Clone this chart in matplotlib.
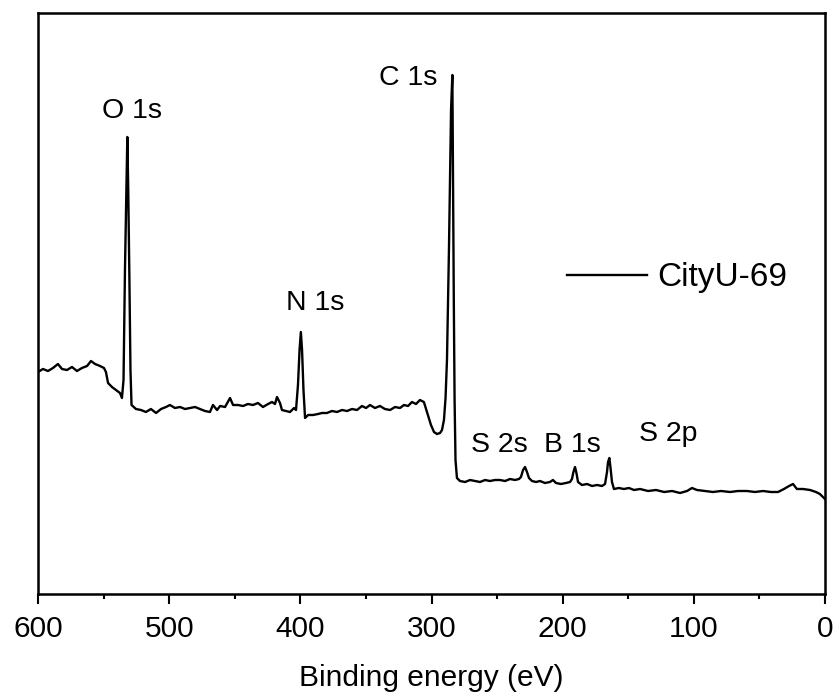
import matplotlib
matplotlib.use("Agg")
import matplotlib.pyplot as plt
from matplotlib.ticker import MultipleLocator

plt.rcParams['font.family'] = ['Liberation Sans', 'DejaVu Sans']

# Binding energy (eV) and intensity (a.u.)
energy = [600.0, 596.2, 592.4, 588.6, 584.8, 581.7, 577.9, 574.1, 570.3, 566.5,
          562.6, 559.6, 556.5, 552.7, 549.7, 548.2, 546.6, 543.6, 540.5, 537.5,
          536.0, 534.8, 533.7, 532.5, 531.9, 531.2, 530.4, 529.5, 528.7, 525.3,
          521.5, 517.7, 513.9, 510.0, 506.2, 502.4, 499.4, 495.6, 491.7, 487.9,
          484.1, 480.3, 476.5, 472.7, 468.9, 466.6, 463.5, 461.2, 457.4, 453.6,
          451.3, 447.5, 443.7, 439.9, 436.1, 432.3, 428.5, 424.6, 421.6, 419.3,
          417.8, 415.5, 414.0, 410.9, 407.9, 404.8, 403.3, 401.8, 400.6, 399.6,
          398.7, 397.6, 396.4, 394.1, 390.3, 386.5, 383.5, 379.7, 375.9, 372.0,
          368.2, 364.4, 360.6, 356.8, 353.0, 349.9, 346.9, 343.1, 339.3, 335.5,
          331.6, 327.8, 324.0, 321.0, 317.9, 314.9, 311.8, 308.8, 305.8, 302.7,
          300.4, 298.1, 295.8, 293.5, 292.0, 290.5, 289.3, 288.2, 287.4, 286.7,
          285.9, 285.1, 284.1, 283.6, 283.0, 282.4, 281.7, 280.6, 278.3, 274.4,
          270.6, 266.8, 263.0, 259.2, 255.4, 251.6, 247.8, 243.9, 240.1, 236.3,
          233.3, 231.8, 230.2, 228.7, 227.2, 225.7, 223.4, 220.3, 217.3, 213.5,
          209.7, 207.4, 205.1, 201.3, 197.5, 194.4, 192.9, 191.8, 190.6, 189.5,
          188.3, 185.3, 181.4, 177.6, 173.8, 170.0, 167.7, 166.2, 165.4, 164.4,
          163.5, 162.4, 160.9, 157.1, 153.3, 149.5, 145.6, 141.0, 134.9, 128.8,
          122.7, 116.6, 110.5, 105.2, 101.4, 97.6, 91.5, 85.4, 79.3, 72.4,
          66.3, 59.5, 53.4, 47.3, 41.2, 35.8, 31.3, 27.4, 24.4, 21.4,
          16.8, 11.4, 6.9, 3.9, 1.5, 0.0]
intensity = [222, 225, 223, 226, 230, 225, 224, 227, 223, 226,
             228, 233, 230, 228, 226, 222, 211, 207, 204, 201,
             196, 214, 324, 414, 457, 404, 324, 224, 189, 185,
             184, 182, 185, 181, 185, 187, 189, 186, 187, 185,
             186, 187, 185, 183, 182, 189, 184, 188, 187, 196,
             189, 189, 188, 190, 189, 191, 187, 190, 192, 190,
             197, 191, 184, 183, 182, 186, 184, 209, 244, 262,
             244, 204, 176, 179, 179, 180, 181, 181, 183, 182,
             184, 183, 185, 184, 188, 186, 189, 186, 188, 185,
             184, 187, 186, 189, 188, 192, 190, 194, 192, 179,
             169, 162, 160, 161, 164, 174, 196, 234, 294, 344,
             414, 484, 519, 414, 294, 194, 134, 116, 113, 112,
             114, 113, 112, 114, 113, 114, 114, 113, 115, 114,
             115, 117, 124, 127, 122, 116, 113, 112, 113, 111,
             112, 114, 111, 110, 111, 112, 115, 122, 127, 121,
             112, 109, 110, 108, 109, 108, 110, 122, 132, 136,
             126, 112, 105, 106, 105, 106, 104, 105, 103, 104,
             102, 103, 101, 103, 106, 104, 103, 102, 103, 102,
             103, 103, 102, 103, 102, 102, 105, 108, 110, 105,
             105, 104, 102, 100, 97, 95]

peak_labels = ["O 1s", "C 1s", "N 1s", "S 2s", "B 1s", "S 2p"]
label_x = [528.3, 317.9, 388.8, 248.5, 192.9, 119.7]
label_y = [476, 509, 284, 142, 142, 153]

series_name = "CityU-69"

fig = plt.figure(figsize=(8.37, 6.95), dpi=100)
ax = fig.add_axes([38/837, 101/695, 787/837, 581/695])

ax.plot(energy, intensity, color='black', linewidth=1.7, label=series_name)

for txt, x, y in zip(peak_labels, label_x, label_y):
    ax.text(x, y, txt, fontsize=20.5, ha='center', va='baseline')

ax.set_xlim(600, 0)
ax.set_ylim(0, 581)
ax.xaxis.set_major_locator(MultipleLocator(100))
ax.xaxis.set_minor_locator(MultipleLocator(50))
ax.tick_params(axis='x', which='major', direction='out', length=7, width=1.5,
               labelsize=21.5, pad=8)
ax.tick_params(axis='x', which='minor', direction='out', length=3.5, width=1.5)
ax.set_yticks([])
for s in ax.spines.values():
    s.set_linewidth(1.8)

ax.set_xlabel("Binding energy (eV)", fontsize=21.5, labelpad=15)

leg = ax.legend(loc='center left', bbox_to_anchor=(0.672, 0.544), frameon=False,
                fontsize=24, handlelength=2.4, handletextpad=0.3,
                borderpad=0, borderaxespad=0)

fig.savefig("out.png", dpi=100)
